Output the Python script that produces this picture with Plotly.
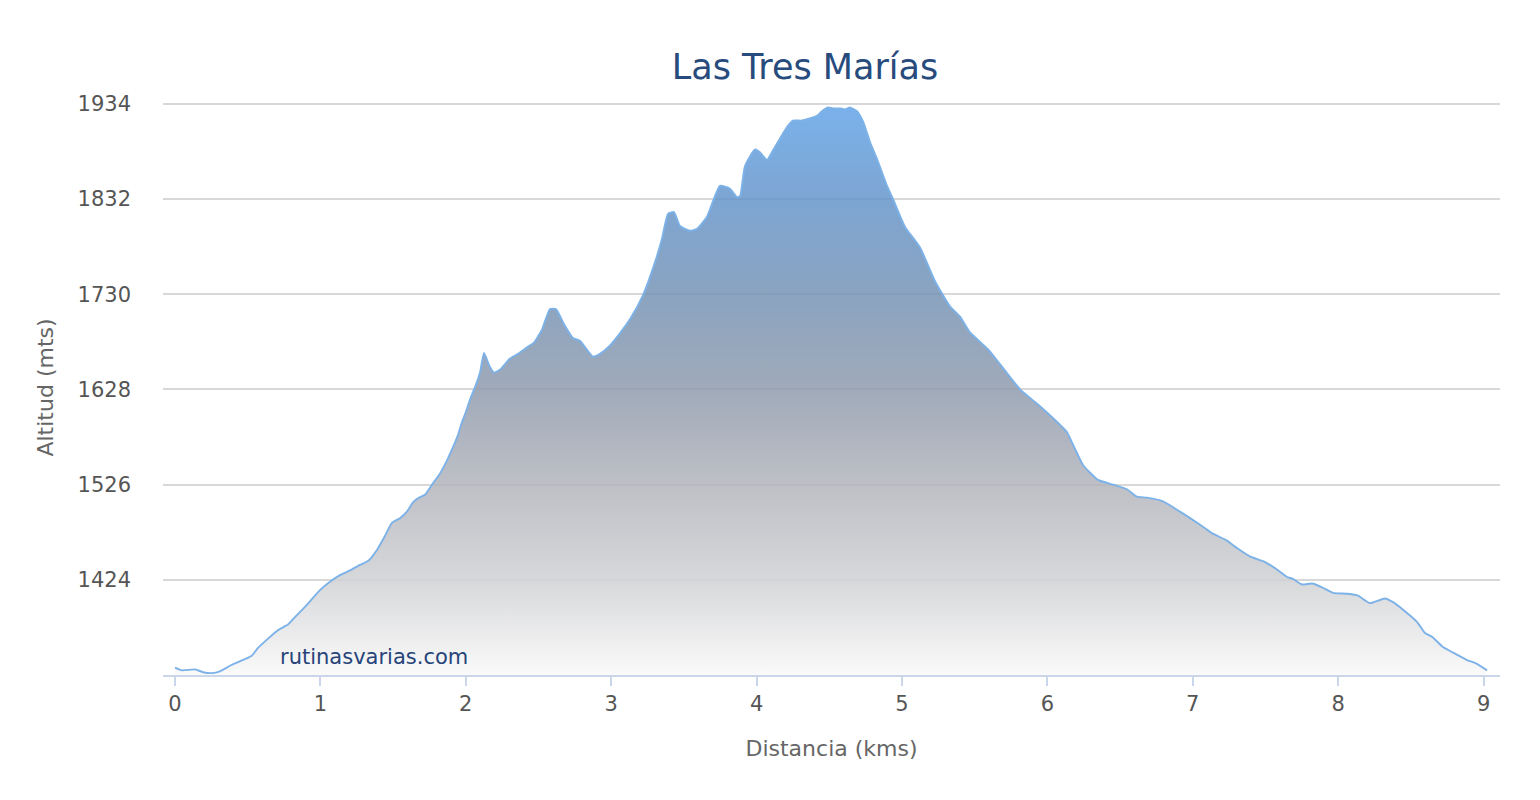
import plotly.graph_objects as go

title_text = "Las Tres Marías"
x_title = "Distancia (kms)"
y_title = "Altitud (mts)"
watermark = "rutinasvarias.com"

distance_km = [
    0.000, 0.048, 0.138, 0.193, 0.254, 0.309, 0.392, 0.481, 0.530, 0.571,
    0.640, 0.708, 0.777, 0.825, 0.894, 0.997, 1.066, 1.135, 1.203, 1.272,
    1.327, 1.389, 1.444, 1.492, 1.547, 1.595, 1.637, 1.678, 1.719, 1.768,
    1.823, 1.871, 1.912, 1.946, 1.974, 2.001, 2.029, 2.070, 2.098, 2.125,
    2.160, 2.194, 2.235, 2.304, 2.359, 2.421, 2.469, 2.524, 2.579, 2.620,
    2.675, 2.737, 2.785, 2.875, 2.923, 2.992, 3.060, 3.129, 3.219, 3.301,
    3.349, 3.391, 3.432, 3.473, 3.542, 3.590, 3.659, 3.748, 3.817, 3.865,
    3.886, 3.920, 3.989, 4.023, 4.072, 4.113, 4.209, 4.250, 4.312, 4.415,
    4.450, 4.491, 4.525, 4.574, 4.608, 4.642, 4.690, 4.732, 4.780, 4.828,
    4.897, 4.938, 5.021, 5.124, 5.227, 5.330, 5.399, 5.468, 5.591, 5.674,
    5.812, 5.949, 6.100, 6.135, 6.245, 6.348, 6.451, 6.547, 6.616, 6.685,
    6.795, 6.912, 7.050, 7.132, 7.235, 7.304, 7.393, 7.497, 7.579, 7.648,
    7.689, 7.751, 7.820, 7.889, 7.964, 8.067, 8.136, 8.219, 8.322, 8.377,
    8.446, 8.542, 8.597, 8.645, 8.721, 8.790, 8.886, 8.941, 9.024,
]

altitude_m = [
    1330, 1327, 1328, 1325, 1324, 1326, 1333, 1339, 1343, 1351,
    1361, 1370, 1376, 1384, 1395, 1413, 1422, 1429, 1434, 1440,
    1444, 1456, 1471, 1485, 1490, 1497, 1507, 1512, 1515, 1526,
    1538, 1552, 1566, 1579, 1593, 1604, 1617, 1633, 1646, 1667,
    1654, 1646, 1649, 1661, 1666, 1673, 1678, 1692, 1714, 1714,
    1698, 1683, 1680, 1663, 1666, 1675, 1688, 1703, 1729, 1764,
    1789, 1816, 1818, 1803, 1798, 1800, 1813, 1846, 1843, 1834,
    1835, 1867, 1885, 1882, 1874, 1884, 1909, 1916, 1916, 1921,
    1926, 1930, 1929, 1929, 1928, 1930, 1926, 1915, 1893, 1875,
    1846, 1832, 1802, 1780, 1744, 1717, 1706, 1689, 1671, 1655,
    1628, 1610, 1588, 1582, 1547, 1531, 1526, 1521, 1513, 1512,
    1508, 1497, 1483, 1474, 1466, 1458, 1449, 1443, 1435, 1427,
    1425, 1419, 1420, 1416, 1410, 1409, 1407, 1399, 1404, 1400,
    1392, 1379, 1367, 1363, 1352, 1346, 1338, 1335, 1327,
]

y_ticks = [1424, 1526, 1628, 1730, 1832, 1934]
x_ticks = [0, 1, 2, 3, 4, 5, 6, 7, 8, 9]
y_min, y_max = 1322, 1938
grad_top = 1934

fig = go.Figure()
fig.add_trace(go.Scatter(
    x=distance_km, y=altitude_m,
    mode="lines",
    line=dict(color="rgb(124,178,232)", width=1.9, shape="spline", smoothing=0.5),
    fill="tozeroy",
    fillgradient=dict(
        type="vertical",
        start=y_min, stop=grad_top,
        colorscale=[
            [0.0, "rgba(249,249,249,0.85)"],
            [0.17, "rgba(207,208,211,0.85)"],
            [0.33, "rgba(179,181,188,0.85)"],
            [0.5, "rgba(143,155,173,0.85)"],
            [0.67, "rgba(117,147,181,0.85)"],
            [0.83, "rgba(102,149,202,0.85)"],
            [1.0, "rgba(98,164,232,0.85)"],
        ],
    ),
    hoverinfo="x+y",
    showlegend=False,
))

fig.add_annotation(
    x=0.708, y=1341, xref="x", yref="y",
    text=watermark, showarrow=False, xanchor="left", yanchor="middle",
    font=dict(family="DejaVu Sans", size=21, color="rgb(39,68,122)"),
)

fig.update_layout(
    width=1540, height=800,
    paper_bgcolor="white", plot_bgcolor="white",
    margin=dict(l=155, r=48, t=92, b=133, autoexpand=False),
    font=dict(family="DejaVu Sans", color="#666666"),
    title=dict(
        text=title_text, x=797/1540, xanchor="center", xref="container",
        y=1 - 59/800, yanchor="middle", yref="container",
        font=dict(family="DejaVu Sans", size=35, color="rgb(39,75,124)"),
    ),
    xaxis=dict(
        range=[-0.0825, 9.113], tickvals=x_ticks,
        ticks="outside", ticklen=9, tickwidth=1.5, tickcolor="#ccd6eb",
        showline=True, linecolor="#ccd6eb", linewidth=1.5,
        showgrid=False, zeroline=False,
        tickfont=dict(size=21, color="#555555"),
        title=dict(text=x_title, font=dict(size=22, color="#666666"), standoff=26),
    ),
    yaxis=dict(
        range=[y_min, y_max], tickvals=y_ticks,
        showgrid=True, gridcolor="#d8d8d8", gridwidth=1.5,
        zeroline=False, showline=False, ticks="",
        ticklabelstandoff=31,
        tickfont=dict(size=21, color="#555555"),
        title=dict(text=y_title, font=dict(size=22, color="#666666"), standoff=17),
    ),
)

fig.write_html("out.html")
